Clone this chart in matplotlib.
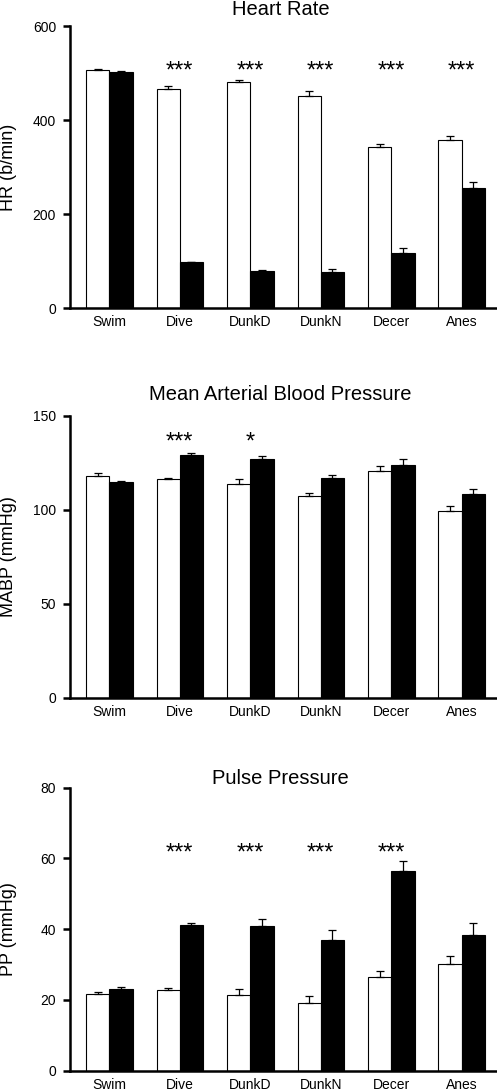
import matplotlib
matplotlib.use("Agg")
import matplotlib.pyplot as plt
import numpy as np

plt.rcParams['font.family'] = ['Liberation Sans', 'DejaVu Sans']

categories = ["Swim", "Dive", "DunkD", "DunkN", "Decer", "Anes"]

hr_white = [506, 466, 481, 451, 343, 357]
hr_white_err = [3, 6, 5, 11, 5, 10]
hr_black = [503, 97, 78, 77, 118, 256]
hr_black_err = [1, 1, 3, 5, 10, 12]
hr_stars = ["", "***", "***", "***", "***", "***"]

mabp_white = [118.2, 116.3, 113.6, 107.2, 120.9, 99.6]
mabp_white_err = [1.2, 0.9, 2.7, 2.0, 2.5, 2.5]
mabp_black = [114.7, 129.1, 126.9, 116.8, 123.7, 108.5]
mabp_black_err = [0.9, 1.2, 2.0, 1.8, 3.2, 2.8]
mabp_stars = ["", "***", "*", "", "", ""]

pp_white = [21.8, 22.9, 21.5, 19.2, 26.6, 30.2]
pp_white_err = [0.5, 0.4, 1.6, 1.8, 1.5, 2.2]
pp_black = [23.2, 41.2, 41.0, 36.9, 56.4, 38.3]
pp_black_err = [0.4, 0.6, 1.8, 3.0, 2.8, 3.4]
pp_stars = ["", "***", "***", "***", "***", ""]

W, H = 497, 1089
fig = plt.figure(figsize=(W / 100, H / 100), dpi=100)

def fy(py):
    return 1 - py / H

panels = [
    dict(top=26, bot=308, title="Heart Rate", title_base=15, ylabel="HR (b/min)",
         white=hr_white, werr=hr_white_err, black=hr_black, berr=hr_black_err,
         stars=hr_stars, star_y=513, ymax=600, ticks=[0, 200, 400, 600]),
    dict(top=416, bot=697.7, title="Mean Arterial Blood Pressure", title_base=400,
         ylabel="MABP (mmHg)",
         white=mabp_white, werr=mabp_white_err, black=mabp_black, berr=mabp_black_err,
         stars=mabp_stars, star_y=138.4, ymax=150, ticks=[0, 50, 100, 150]),
    dict(top=787.7, bot=1070.7, title="Pulse Pressure", title_base=784,
         ylabel="PP (mmHg)",
         white=pp_white, werr=pp_white_err, black=pp_black, berr=pp_black_err,
         stars=pp_stars, star_y=62.6, ymax=80, ticks=[0, 20, 40, 60, 80]),
]

left_px, right_px = 70, 497
x = np.arange(len(categories))
bw = 0.33
spine_lw = 1.8

for p in panels:
    ax = fig.add_axes([left_px / W, fy(p['bot']), (right_px - left_px) / W,
                       (p['bot'] - p['top']) / H])
    ax.bar(x - bw / 2, p['white'], bw, color='white', edgecolor='black', linewidth=0.8, zorder=2)
    ax.bar(x + bw / 2, p['black'], bw, color='black', edgecolor='black', linewidth=0.8, zorder=2)
    zeros = np.zeros(len(x))
    ax.errorbar(x - bw / 2, p['white'], yerr=[zeros, p['werr']], fmt='none',
                ecolor='black', elinewidth=0.9, capsize=3, capthick=0.9, zorder=3)
    ax.errorbar(x + bw / 2, p['black'], yerr=[zeros, p['berr']], fmt='none',
                ecolor='black', elinewidth=0.9, capsize=3, capthick=0.9, zorder=3)
    for i, s in enumerate(p['stars']):
        if s:
            ax.annotate(s, (x[i], p['star_y']), xytext=(0, -7.5), textcoords='offset points',
                        ha='center', va='baseline', fontsize=17)
    ax.set_xlim(-0.558, 5.50)
    ax.set_ylim(0, p['ymax'])
    ax.set_yticks(p['ticks'])
    ax.set_xticks(x)
    ax.set_xticklabels(categories, fontsize=10)
    ax.tick_params(axis='x', length=0, pad=5)
    ax.tick_params(axis='y', direction='out', length=5, width=spine_lw, labelsize=10, pad=5)
    for sp in ['top', 'right']:
        ax.spines[sp].set_visible(False)
    for sp in ['left', 'bottom']:
        ax.spines[sp].set_linewidth(spine_lw)
    fig.text(280.7 / W, fy(p['title_base']), p['title'], ha='center', va='baseline',
             fontsize=14.5)
    fig.text(9 / W, fy((p['top'] + p['bot']) / 2), p['ylabel'], ha='center', va='center',
             rotation=90, fontsize=13)

fig.savefig("out.png", dpi=100)
